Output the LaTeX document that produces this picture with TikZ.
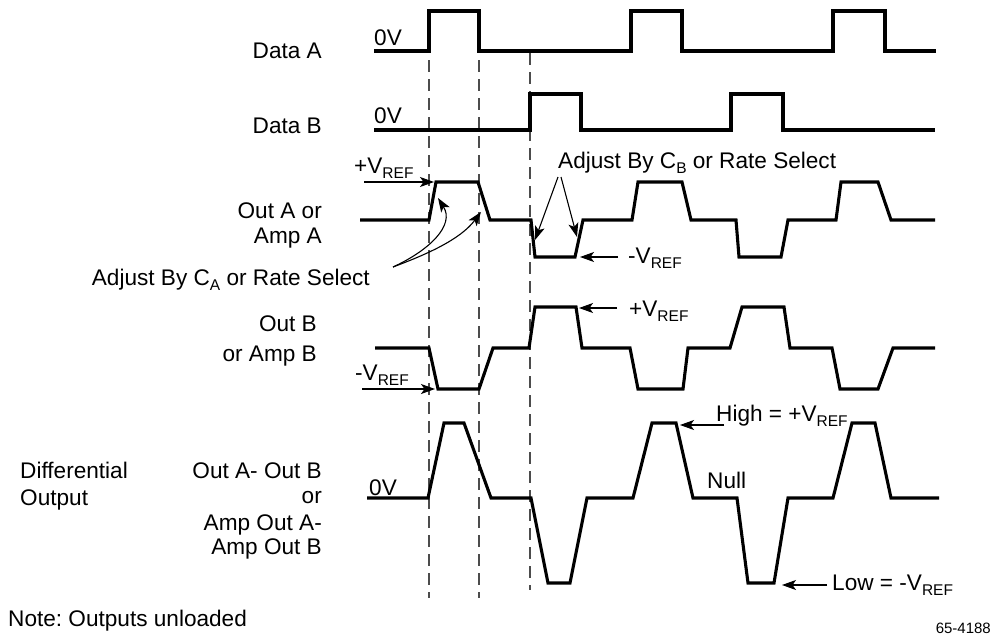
\documentclass[tikz,border=0pt]{standalone}
\usepackage{fontspec}
\setmainfont{Liberation Sans}
\usetikzlibrary{arrows.meta}
\frenchspacing
\newcommand\sbs[1]{\raisebox{-5pt}{\fontsize{15.5}{15.5}\selectfont #1}}
\begin{document}
\begin{tikzpicture}[x=1pt,y=-1pt,
  wave/.style={line width=3.1pt,line join=miter},
  guide/.style={line width=1.1pt,draw=black!70,dash pattern=on 12pt off 7pt},
  arr/.style={line width=1.1pt,-{Stealth[length=14pt,width=10pt,inset=3.5pt]}},
  lbl/.style={inner sep=0pt,font=\fontsize{22.6}{26}\selectfont},
  small/.style={inner sep=0pt,font=\fontsize{15}{18}\selectfont}]
\useasboundingbox (0,0) rectangle (993,635);

% dashed guides
\coordinate (g1t) at (429,60);  \coordinate (g1b) at (429,598);
\coordinate (g2t) at (479,60);  \coordinate (g2b) at (479,598);
\coordinate (g3t) at (530,53);  \coordinate (g3b) at (530,590);
\draw[guide] (g1t) -- (g1b);
\draw[guide] (g2t) -- (g2b);
\draw[guide] (g3t) -- (g3b);

% Data A
\draw[wave] (374,51)--(429,51)--(429,11)--(479,11)--(479,51)--(631,51)--(631,11)--(682,11)--(682,51)
  --(833,51)--(833,11)--(885,11)--(885,51)--(936,51);
% Data B
\draw[wave] (374,130)--(530,130)--(530,94)--(581,94)--(581,130)--(731,130)--(731,94)--(783,94)--(783,130)--(935,130);
% Out A
\draw[wave] (360,220)--(429,220)--(436,182) coordinate (aTopL)--(478,182)--(490,220)--(531,220)--(535,257)--(575,257) coordinate (aLowR)
  --(583,220)--(632,220)--(638,182)--(682,182)--(691,220)--(736,220)--(739,257)--(781,257)--(788,220)
  --(836,220)--(841,182)--(878,182)--(891,220)--(935,220);
% Out B
\draw[wave] (375,348)--(429,348)--(438,389) coordinate (bLowL)--(479,389)--(493,348)--(529,348)--(535,307)--(576,307) coordinate (bTopR)
  --(582,348)--(630,348)--(638,389)--(683,389)--(688,348)--(730,348)--(742,307)--(784,307)--(790,348)
  --(832,348)--(840,389)--(878,389)--(893,348)--(935,348);
% Differential
\draw[wave] (367,498)--(428,498)--(444,423)--(464,423)--(491,498)--(531,498)--(548,583)--(570,583)--(587,498)
  --(633,498)--(652,423)--(676,423) coordinate (dTopR)--(693,498)--(737,498)--(748,583)--(774,583) coordinate (dLowR)--(788,498)
  --(833,498)--(852,423)--(875,423)--(891,498)--(939,498);

% labels
\node[lbl,anchor=base east] (tDA) at (322,58) {Data A};
\node[lbl,anchor=base east] (tDB) at (322,133) {Data B};
\node[lbl,anchor=base west] (z1) at (374,45) {0V};
\node[lbl,anchor=base west] (z2) at (374,123) {0V};
\node[lbl,anchor=base west] (vpA) at (354,173) {+V\sbs{REF}};
\node[lbl,anchor=base east] (tOA1) at (322,218) {Out A or};
\node[lbl,anchor=base east] (tOA2) at (322,243) {Amp A};
\node[lbl,anchor=base east] (adjA) at (370,285) {Adjust By C\sbs{A} or Rate Select};
\node[lbl,anchor=base west] (adjB) at (558,168) {Adjust By C\sbs{B} or Rate Select};
\node[lbl,anchor=base west] (vmA) at (628,263) {-V\sbs{REF}};
\node[lbl,anchor=base east] (tOB1) at (317,331) {Out B};
\node[lbl,anchor=base east] (tOB2) at (317,361) {or Amp B};
\node[lbl,anchor=base west] (vmB) at (355,380) {-V\sbs{REF}};
\node[lbl,anchor=base west] (vpB) at (629,316) {+V\sbs{REF}};
\node[lbl,anchor=base west] (hi) at (716,421) {High = +V\sbs{REF}};
\node[lbl,anchor=base west] (nul) at (707,488) {Null};
\node[lbl,anchor=base west] (lo) at (832,590) {Low = -V\sbs{REF}};
\node[lbl,anchor=base west] (z3) at (369,495) {0V};
\node[lbl,anchor=base west] (dif1) at (20,478) {Differential};
\node[lbl,anchor=base west] (dif2) at (20,505) {Output};
\node[lbl,anchor=base east] (oab1) at (322,478) {Out A- Out B};
\node[lbl,anchor=base east] (oab2) at (322,503) {or};
\node[lbl,anchor=base east] (oab3) at (322,530) {Amp Out A-};
\node[lbl,anchor=base east] (oab4) at (322,554) {Amp Out B};
\node[lbl,anchor=base west] (note) at (8,626) {Note: Outputs unloaded};
\node[small,anchor=base east] (fig) at (991,633) {65-4188};

% arrows
\coordinate (s1) at (364,182);  \coordinate (e1) at (434,182);
\draw[arr] (s1) -- (e1);
\coordinate (cA) at (393,267);
\coordinate (eA1) at (438,198); \coordinate (eA2) at (481,212);
\draw[arr] (cA) .. controls (430,250) and (455,225) .. (eA1);
\draw[arr] (cA) .. controls (425,255) and (460,240) .. (eA2);
\coordinate (cB1) at (558,177); \coordinate (cB2) at (561,177);
\coordinate (eB1) at (535,240); \coordinate (eB2) at (577,237);
\draw[arr] (cB1) -- (eB1);
\draw[arr] (cB2) -- (eB2);
\coordinate (s4) at (618,257);  \coordinate (e4) at (580,257);
\draw[arr] (s4) -- (e4);
\coordinate (s5) at (362,389);  \coordinate (e5) at (435,389);
\draw[arr] (s5) -- (e5);
\coordinate (s6) at (617,308);  \coordinate (e6) at (579,308);
\draw[arr] (s6) -- (e6);
\coordinate (s7) at (724,425);  \coordinate (e7) at (680,425);
\draw[arr] (s7) -- (e7);
\coordinate (s8) at (827,585);  \coordinate (e8) at (782,585);
\draw[arr] (s8) -- (e8);
\end{tikzpicture}
\end{document}
